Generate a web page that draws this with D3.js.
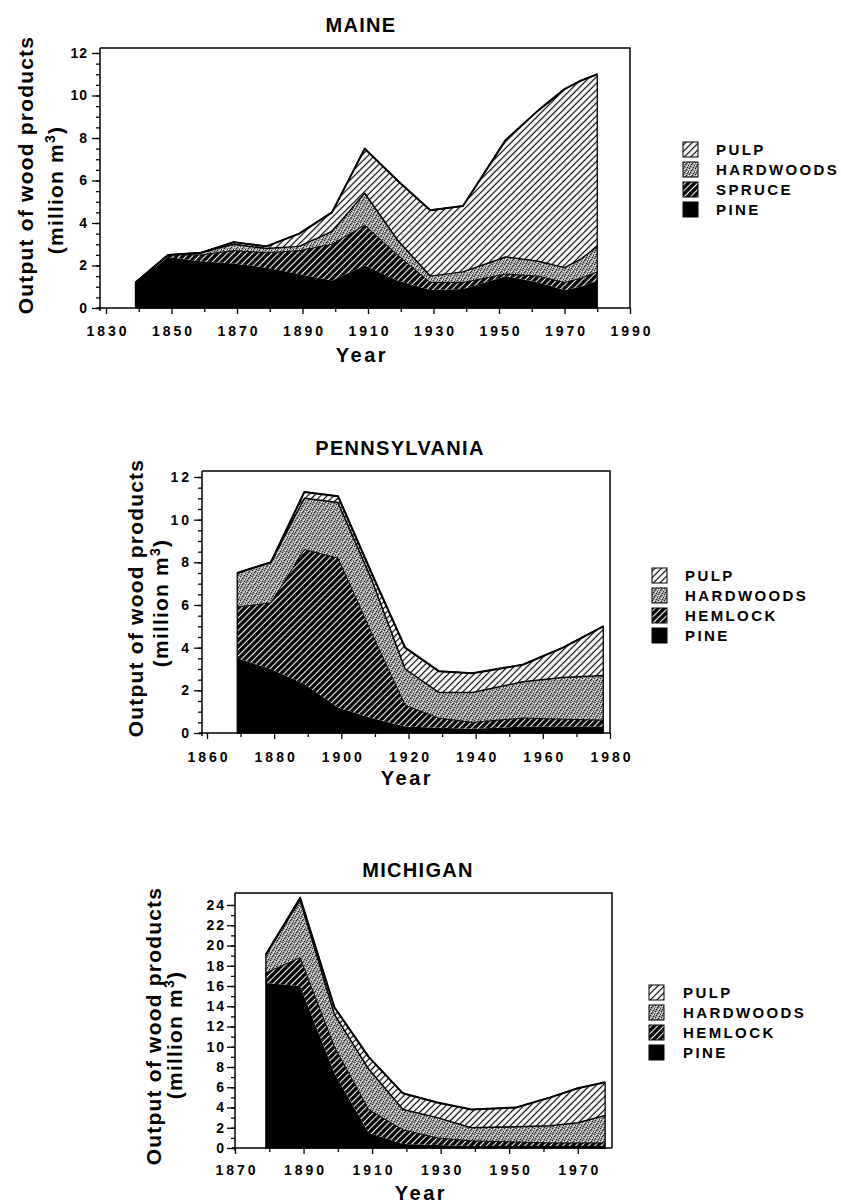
<!DOCTYPE html>
<html>
<head>
<meta charset="utf-8">
<script src="https://cdn.jsdelivr.net/npm/d3@7"></script>
<style>
  body { margin: 0; background: #fff; }
  text { font-family: "Liberation Sans", Arial, sans-serif; font-weight: bold; fill: #000; }
</style>
</head>
<body>
<svg id="chart" width="841" height="1203"></svg>
<script>
// ---- data (million m3) ----
var keys = ["pine", "conifer", "hardwoods", "pulp"];

var maineYears     = [1839, 1849, 1859, 1869, 1879, 1889, 1899, 1909, 1919, 1929, 1939, 1952, 1962, 1970, 1975, 1980];
var mainePine      = [1.2, 2.4, 2.2, 2.1, 1.9, 1.6, 1.3, 2.0, 1.3, 0.85, 0.9, 1.5, 1.2, 0.85, 1.0, 1.3];
var maineSpruce    = [0, 0.1, 0.3, 0.6, 0.7, 1.1, 1.7, 1.9, 1.2, 0.35, 0.3, 0.1, 0.3, 0.35, 0.4, 0.4];
var maineHardwoods = [0, 0, 0.1, 0.3, 0.2, 0.2, 0.6, 1.5, 0.7, 0.3, 0.5, 0.8, 0.7, 0.7, 0.9, 1.2];
var mainePulp      = [0, 0, 0, 0.1, 0.1, 0.6, 0.9, 2.1, 2.8, 3.1, 3.1, 5.5, 7.1, 8.4, 8.4, 8.1];
var maineLegend    = ["PULP", "HARDWOODS", "SPRUCE", "PINE"];
var maineXTicks    = [1830, 1850, 1870, 1890, 1910, 1930, 1950, 1970, 1990];
var maineYTicks    = [0, 2, 4, 6, 8, 10, 12];

var paYears     = [1869, 1879, 1889, 1899, 1909, 1919, 1929, 1939, 1954, 1966, 1978];
var paPine      = [3.5, 3.0, 2.3, 1.2, 0.7, 0.3, 0.25, 0.2, 0.3, 0.3, 0.3];
var paHemlock   = [2.4, 3.1, 6.3, 7.0, 4.0, 1.0, 0.45, 0.3, 0.4, 0.35, 0.3];
var paHardwoods = [1.6, 1.9, 2.4, 2.6, 2.5, 1.7, 1.2, 1.4, 1.7, 1.95, 2.1];
var paPulp      = [0, 0, 0.3, 0.3, 0.3, 1.0, 1.0, 0.9, 0.8, 1.4, 2.3];
var paLegend    = ["PULP", "HARDWOODS", "HEMLOCK", "PINE"];
var paXTicks    = [1860, 1880, 1900, 1920, 1940, 1960, 1980];
var paYTicks    = [0, 2, 4, 6, 8, 10, 12];

var miYears     = [1879, 1889, 1899, 1909, 1919, 1929, 1939, 1952, 1962, 1970, 1978];
var miPine      = [16.3, 16.0, 7.4, 1.5, 0.4, 0.3, 0.2, 0.2, 0.2, 0.2, 0.2];
var miHemlock   = [1.0, 2.8, 2.6, 2.3, 1.4, 0.7, 0.5, 0.4, 0.3, 0.3, 0.3];
var miHardwoods = [1.8, 5.7, 3.2, 4.0, 2.0, 2.0, 1.3, 1.5, 1.7, 2.0, 2.7];
var miPulp      = [0, 0.2, 0.7, 1.2, 1.6, 1.5, 1.8, 1.9, 2.8, 3.4, 3.3];
var miLegend    = ["PULP", "HARDWOODS", "HEMLOCK", "PINE"];
var miXTicks    = [1870, 1890, 1910, 1930, 1950, 1970];
var miYTicks    = [0, 2, 4, 6, 8, 10, 12, 14, 16, 18, 20, 22, 24];

var svg = d3.select("#chart");

// ---- fill patterns ----
var defs = svg.append("defs");

var pulpPat = defs.append("pattern").attr("id", "pulp")
  .attr("patternUnits", "userSpaceOnUse").attr("width", 4.6).attr("height", 4.6)
  .attr("patternTransform", "rotate(45)");
pulpPat.append("rect").attr("width", 4.6).attr("height", 4.6).attr("fill", "#fff");
pulpPat.append("line").attr("x1", 2.3).attr("y1", 0).attr("x2", 2.3).attr("y2", 4.6)
  .attr("stroke", "#000").attr("stroke-width", 1.2);

var conPat = defs.append("pattern").attr("id", "conifer")
  .attr("patternUnits", "userSpaceOnUse").attr("width", 4.5).attr("height", 4.5)
  .attr("patternTransform", "rotate(45)");
conPat.append("rect").attr("width", 4.5).attr("height", 4.5).attr("fill", "#000");
conPat.append("line").attr("x1", 2.25).attr("y1", 0).attr("x2", 2.25).attr("y2", 4.5)
  .attr("stroke", "#fff").attr("stroke-width", 1.1);

// mottled grey stipple
var hwPat = defs.append("pattern").attr("id", "hardwoods")
  .attr("patternUnits", "userSpaceOnUse").attr("width", 6).attr("height", 6);
hwPat.append("rect").attr("width", 6).attr("height", 6).attr("fill", "#999");
[[0, 0], [3, 1], [5, 3], [1, 4], [4, 5], [2, 2]].forEach(function(p) {
  hwPat.append("rect").attr("x", p[0]).attr("y", p[1]).attr("width", 1).attr("height", 1).attr("fill", "#222");
});
[[2, 0], [5, 1], [0, 3], [3, 4], [1, 1], [4, 3]].forEach(function(p) {
  hwPat.append("rect").attr("x", p[0]).attr("y", p[1]).attr("width", 1).attr("height", 1).attr("fill", "#f2f2f2");
});

var fills = { pine: "#000", conifer: "url(#conifer)", hardwoods: "url(#hardwoods)", pulp: "url(#pulp)" };
var legendFills = ["url(#pulp)", "url(#hardwoods)", "url(#conifer)", "#000"];

function panel(o) {
  var rows = o.years.map(function(yr, i) {
    return { year: yr, pine: o.pine[i], conifer: o.conifer[i], hardwoods: o.hardwoods[i], pulp: o.pulp[i] };
  });
  var series = d3.stack().keys(keys)(rows);

  var x = d3.scaleLinear().domain(o.xDomain).range(o.xRange);
  var y = d3.scaleLinear().domain(o.yDomain).range(o.yRange);
  var bottom = o.yRange[0];

  var g = svg.append("g");

  var area = d3.area()
    .x(function(d) { return x(d.data.year); })
    .y0(function(d) { return y(d[0]); })
    .y1(function(d) { return y(d[1]); });

  g.selectAll("path.layer").data(series).join("path")
    .attr("class", "layer")
    .attr("d", area)
    .attr("fill", function(d) { return fills[d.key]; });

  // boundary lines between layers
  var line = d3.line()
    .x(function(d) { return x(d.data.year); })
    .y(function(d) { return y(d[1]); });
  g.selectAll("path.edge").data(series.slice(1)).join("path")
    .attr("class", "edge")
    .attr("d", line)
    .attr("fill", "none")
    .attr("stroke", "#000")
    .attr("stroke-width", function(d) { return d.key === "pulp" ? 2 : (d.key === "hardwoods" ? 1.5 : 1); })
    .attr("stroke-linejoin", "round");

  var top = series[series.length - 1];
  g.append("path")
    .attr("d", d3.area()
      .x(function(d) { return x(d.data.year); })
      .y0(bottom)
      .y1(function(d) { return y(d[1]); })(top))
    .attr("fill", "none").attr("stroke", "#000").attr("stroke-width", 1.3);

  // frame: top and right
  g.append("path")
    .attr("d", "M" + o.left + "," + o.frameTop + "H" + o.xRange[1] + "V" + bottom)
    .attr("fill", "none").attr("stroke", "#000").attr("stroke-width", 1.5);

  // x axis
  var minorX = d3.range(o.xDomain[0] + 10, o.xDomain[1], 20);
  var xMinor = g.append("g").attr("transform", "translate(0," + bottom + ")")
    .call(d3.axisBottom(x).tickValues(minorX).tickSize(4).tickFormat(""));
  xMinor.select(".domain").remove();
  var xAx = g.append("g").attr("transform", "translate(0," + bottom + ")")
    .call(d3.axisBottom(x).tickValues(o.xTicks).tickSize(6).tickFormat(d3.format("d")));
  xAx.select(".domain").attr("d", "M" + (o.left - 3) + ",0H" + o.xRange[1]);
  xAx.selectAll("text")
    .attr("y", o.xLabelOffset).attr("dy", 0)
    .attr("dx", 1.5)
    .style("font-size", "14px").style("letter-spacing", "3px");

  // y axis
  var minorY = d3.range(o.yDomain[0], o.yDomain[1] + 0.001, o.yMinor);
  var yMinor = g.append("g").attr("transform", "translate(" + o.left + ",0)")
    .call(d3.axisLeft(y).tickValues(minorY).tickSize(4).tickFormat(""));
  yMinor.select(".domain").remove();
  var yAx = g.append("g").attr("transform", "translate(" + o.left + ",0)")
    .call(d3.axisLeft(y).tickValues(o.yTicks).tickSize(8).tickPadding(o.yPad).tickFormat(d3.format("d")));
  yAx.select(".domain").attr("d", "M0," + o.frameTop + "V" + (bottom + 3));
  yAx.selectAll("text").style("font-size", "14px").style("letter-spacing", o.yLs + "px")
    .attr("dx", o.yLs);
  g.selectAll(".domain").attr("stroke-width", 1.5);
  g.selectAll(".tick line").attr("stroke-width", 1.3);

  // titles
  g.append("text").attr("x", o.titleX).attr("y", o.titleY)
    .attr("text-anchor", "middle").style("font-size", "20px").style("letter-spacing", "1.3px")
    .text(o.title);

  g.append("text").attr("x", o.yearX).attr("y", o.yearY)
    .attr("text-anchor", "middle").style("font-size", "20px").style("letter-spacing", "2.5px")
    .text("Year");

  g.append("text")
    .attr("transform", "translate(" + o.yl1[0] + "," + o.yl1[1] + ") rotate(-90)")
    .attr("text-anchor", "middle").style("font-size", "21px").style("letter-spacing", "1.2px")
    .text("Output of wood products");
  var t2 = g.append("text")
    .attr("transform", "translate(" + o.yl2[0] + "," + o.yl2[1] + ") rotate(-90)")
    .attr("text-anchor", "middle").style("font-size", "21px").style("letter-spacing", "1.2px");
  t2.append("tspan").text("(million m");
  t2.append("tspan").attr("dy", -8).style("font-size", "14px").text("3");
  t2.append("tspan").attr("dy", 8).text(")");

  // legend
  var lg = g.append("g").attr("transform", "translate(" + o.legend[0] + "," + o.legend[1] + ")");
  var item = lg.selectAll("g").data(o.legendNames).join("g")
    .attr("transform", function(d, i) { return "translate(0," + (i * 20) + ")"; });
  item.append("rect").attr("width", 15).attr("height", 15)
    .attr("fill", function(d, i) { return legendFills[i]; })
    .attr("stroke", "#000").attr("stroke-width", 1);
  item.append("text").attr("x", o.legendText).attr("y", 13)
    .style("font-size", "15px").style("letter-spacing", "2.4px")
    .text(function(d) { return d; });
}

panel({
  title: "MAINE", years: maineYears, pine: mainePine, conifer: maineSpruce,
  hardwoods: maineHardwoods, pulp: mainePulp, legendNames: maineLegend,
  xTicks: maineXTicks, yTicks: maineYTicks, yMinor: 0.5,
  xDomain: [1830, 1990], xRange: [106, 630], yDomain: [0, 12], yRange: [308, 53],
  left: 100, frameTop: 48, xLabelOffset: 28, yPad: 5, yLs: 1,
  titleX: 361, titleY: 32, yearX: 362, yearY: 362,
  yl1: [33, 175], yl2: [63, 190],
  legend: [683, 142], legendText: 33
});

panel({
  title: "PENNSYLVANIA", years: paYears, pine: paPine, conifer: paHemlock,
  hardwoods: paHardwoods, pulp: paPulp, legendNames: paLegend,
  xTicks: paXTicks, yTicks: paYTicks, yMinor: 0.5,
  xDomain: [1860, 1980], xRange: [207, 610], yDomain: [0, 12], yRange: [733, 477],
  left: 202, frameTop: 471, xLabelOffset: 29, yPad: 5, yLs: 3,
  titleX: 400, titleY: 455, yearX: 407, yearY: 785,
  yl1: [143, 598], yl2: [168, 603],
  legend: [652, 568], legendText: 33
});

panel({
  title: "MICHIGAN", years: miYears, pine: miPine, conifer: miHemlock,
  hardwoods: miHardwoods, pulp: miPulp, legendNames: miLegend,
  xTicks: miXTicks, yTicks: miYTicks, yMinor: 1,
  xDomain: [1870, 1980], xRange: [235, 612], yDomain: [0, 24], yRange: [1148, 905],
  left: 235, frameTop: 893, xLabelOffset: 27, yPad: 3, yLs: 2,
  titleX: 418, titleY: 877, yearX: 421, yearY: 1200,
  yl1: [161, 1026], yl2: [182, 1035],
  legend: [649, 985], legendText: 34
});
</script>
</body>
</html>
